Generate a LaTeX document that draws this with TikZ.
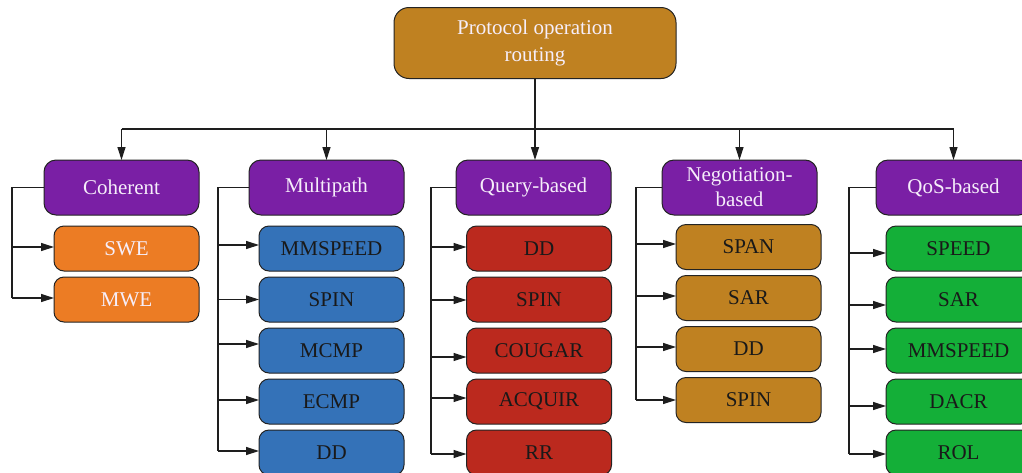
\documentclass[tikz,border=0pt]{standalone}
\usepackage{fontspec}
\setmainfont{Liberation Serif}
\usetikzlibrary{arrows.meta}

\definecolor{cGold}{RGB}{191,129,33}
\definecolor{cPurple}{RGB}{122,31,165}
\definecolor{cOrange}{RGB}{236,124,36}
\definecolor{cBlue}{RGB}{52,114,184}
\definecolor{cRed}{RGB}{187,41,30}
\definecolor{cGreen}{RGB}{20,175,56}
\definecolor{cEdge}{RGB}{35,35,35}
\definecolor{cLine}{RGB}{30,30,30}
\definecolor{cLight}{RGB}{246,238,250}

\tikzset{
  box/.style={draw=cEdge, line width=1pt, inner sep=0pt, outer sep=0pt,
    align=center, font=\fontsize{21}{25}\selectfont},
  rootbox/.style={box, fill=cGold, text=cLight, rounded corners=15pt,
    minimum width=282pt, minimum height=71pt, font=\fontsize{21}{27}\selectfont},
  catbox/.style={box, fill=cPurple, text=cLight, rounded corners=12pt,
    minimum width=155pt, minimum height=55pt},
  leaf/.style={box, rounded corners=10pt, text=black!90,
    minimum width=145pt, minimum height=45pt},
  wire/.style={draw=cLine, line width=1.2pt},
  arr/.style={wire, -{Triangle[length=13pt,width=8pt]}}
}

\begin{document}
\begin{tikzpicture}[x=1pt,y=-1pt]
\useasboundingbox (0,0) rectangle (1022,472);
\clip (0,0) rectangle (1022,472);

% top of the tree
\node[rootbox] (root) at (535,43) {Protocol operation\\routing};
\coordinate (bus) at (535,129);

% the five families
\node[catbox] (coh) at (121.5,187.5) {Coherent};
\node[catbox] (mul) at (326.5,187.5) {Multipath};
\node[catbox] (que) at (533.5,187.5) {Query-based};
\node[catbox] (neg) at (739.5,187.5) {Negotiation-\\based};
\node[catbox] (qos) at (953.5,187.5) {QoS-based};

\draw[wire] (root.south) -- (bus);
\draw[wire] (coh.north |- bus) -- (qos.north |- bus);
\foreach \c in {coh,mul,neg,qos}
  \draw[arr] (\c.north |- bus) -- (\c.north);
\draw[arr] (bus) -- (bus |- que.north);

% trunks on the left of each family
\coordinate (tcoh) at (12,0);
\coordinate (tmul) at (218,0);
\coordinate (tque) at (431,0);
\coordinate (tneg) at (636,0);
\coordinate (tqos) at (849,0);

% each member: label / upward shift of its incoming arrow (pt)
% Coherent
\foreach \t/\d [count=\i] in {SWE/1.5,MWE/1.5} {
  \node[leaf, fill=cOrange, text=cLight] (coh\i) at (126.5,197.5+51*\i) {\t};
  \draw[arr] ([yshift=\d pt]tcoh |- coh\i.west) -- ([yshift=\d pt]coh\i.west);
}
\draw[wire] (coh.west) -| ([yshift=1.5pt]tcoh |- coh2.west);

% Multipath
\foreach \t/\d [count=\i] in {MMSPEED/3.5,SPIN/0,MCMP/6.5,ECMP/1.5,DD/1.5} {
  \node[leaf, fill=cBlue] (mul\i) at (331.5,197.5+51*\i) {\t};
  \draw[arr] ([yshift=\d pt]tmul |- mul\i.west) -- ([yshift=\d pt]mul\i.west);
}
\draw[wire] (mul.west) -| ([yshift=1.5pt]tmul |- mul5.west);

% Query-based
\foreach \t/\d [count=\i] in {DD/1.5,SPIN/-0.5,COUGAR/-6.5,ACQUIR/3.5,RR/-1.5} {
  \node[leaf, fill=cRed] (que\i) at (539,197.5+51*\i) {\t};
  \draw[arr] ([yshift=\d pt]tque |- que\i.west) -- ([yshift=\d pt]que\i.west);
}
\draw[wire] (que.west) -| ([yshift=-1.5pt]tque |- que5.west);

% Negotiation-based
\foreach \t/\d [count=\i] in {SPAN/3,SAR/2,DD/2,SPIN/0} {
  \node[leaf, fill=cGold] (neg\i) at (748.5,196+51*\i) {\t};
  \draw[arr] ([yshift=\d pt]tneg |- neg\i.west) -- ([yshift=\d pt]neg\i.west);
}
\draw[wire] (neg.west) -| (tneg |- neg4.west);

% QoS-based
\foreach \t/\d [count=\i] in {SPEED/-4.5,SAR/-5.5,MMSPEED/1.5,DACR/-4.5,ROL/-1.5} {
  \node[leaf, fill=cGreen] (qos\i) at (958.5,197.5+51*\i) {\t};
  \draw[arr] ([yshift=\d pt]tqos |- qos\i.west) -- ([yshift=\d pt]qos\i.west);
}
\draw[wire] (qos.west) -| ([yshift=-1.5pt]tqos |- qos5.west);
\end{tikzpicture}
\end{document}
